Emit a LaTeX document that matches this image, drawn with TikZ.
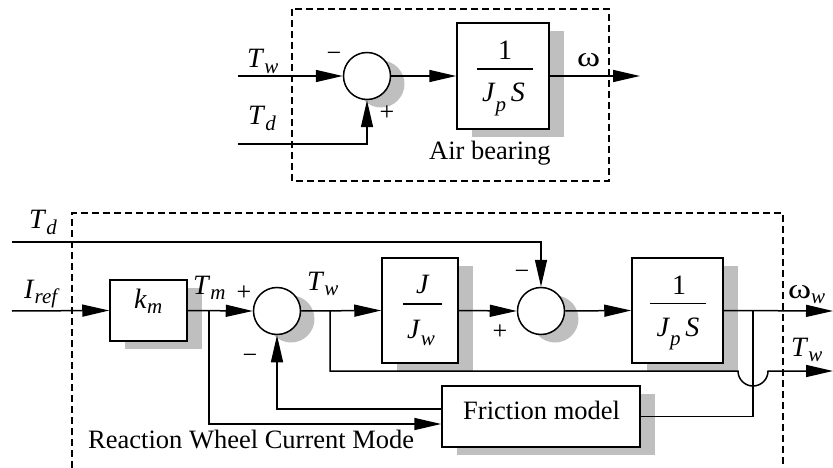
\documentclass[tikz,border=0pt]{standalone}
\usepackage{graphicx}
\usepackage{fontspec}
\setmainfont{Liberation Serif}
\usetikzlibrary{arrows.meta,shadows,calc}
\newcommand\vs[3][0.18em]{\textit{#2}\raisebox{-#1}{\scalebox{0.75}{\textit{#3}}}}
\newcommand\om{\scalebox{1.25}[1]{ω}}
\tikzset{
  x=1pt,y=-1pt,
  every node/.style={font=\fontsize{26}{30}\selectfont, inner sep=0pt},
  lab/.style={anchor=base west,font=\fontsize{28}{32}\selectfont},
  txt/.style={anchor=base west,font=\fontsize{26.5}{30}\selectfont},
  frac/.style={anchor=base,font=\fontsize{28}{32}\selectfont},
  ln/.style={line width=1.5pt},
  bar/.style={line width=1.3pt},
  arr/.style={ln,-{Triangle[length=27pt,width=12pt]}},
  blk/.style={draw,line width=1.5pt,fill=white,
    general shadow={fill=black!25,shadow xshift=15pt,shadow yshift=-8pt}},
  sumc/.style={draw,circle,line width=1.5pt,fill=white,minimum size=47pt,
    general shadow={fill=black!25,shadow xshift=14pt,shadow yshift=-8pt}},
  dbox/.style={line width=1.5pt,dash pattern=on 7pt off 4pt}
}
\begin{document}
\begin{tikzpicture}
\useasboundingbox (0,0) rectangle (833,468);
% dashed frames
\draw[dbox] (292,9) rectangle (609,181);
\begin{scope}
\clip (0,0) rectangle (833,468);
\draw[dbox] (783,475) -- (783,213) -- (72,213) -- (72,475);
\end{scope}

% ---------- top diagram ----------
\node[sumc] (s0) at (367,76) {};
\node[blk,minimum width=92pt,minimum height=106pt] (b0) at (503,76) {};
\node[frac] (b0n) at (505,60) {1};
\draw[bar] (477,69) -- (533,69);
\node[frac] (b0d) at (503.5,102) {\vs[0.35em]{J}{p}\,\textit{S}};
\coordinate (tw0) at (238,76);
\coordinate (td0) at (238,144);
\coordinate (om0) at (640,76);
\draw[arr] (tw0) -- (s0.west);
\draw[arr] (td0) -| (s0.south);
\draw[arr] (s0.east) -- (b0.west);
\draw[arr] (b0.east) -- (om0);
\node[lab] (ltw0) at (247,68) {\vs{T}{w}};
\node[lab] (ltd0) at (248,125) {\vs{T}{d}};
\node (lm0) at (334,57) {−};
\node (lp0) at (387,113) {+};
\node[lab] (lom0) at (577,67) {\om};
\node[txt] (lair) at (429,160) {Air bearing};

% ---------- bottom diagram ----------
\node[blk,minimum width=77pt,minimum height=61pt] (km) at (148.5,310.5) {};
\node[lab] (kmt) at (134,308) {\vs{k}{m}};
\node[sumc] (s1) at (277,311) {};
\node[blk,minimum width=76pt,minimum height=105pt] (jj) at (420,310.5) {};
\node[frac] (jjn) at (423,293) {\textit{J}};
\draw[bar] (403,304) -- (442,304);
\node[frac] (jjd) at (421,338) {\vs[0.25em]{J}{w}};
\node[sumc] (s2) at (541,311) {};
\node[blk,minimum width=91pt,minimum height=105pt] (jp) at (677.5,310.5) {};
\node[frac] (jpn) at (679,294.5) {1};
\draw[bar] (650,303.5) -- (706,303.5);
\node[frac] (jpd) at (678,336) {\vs[0.35em]{J}{p}\,\textit{S}};
\node[blk,minimum width=198pt,minimum height=61pt] (fr) at (541,416.5) {};
\node[txt] (frt) at (463,419) {Friction model};

\coordinate (tdin) at (12,242);
\coordinate (iref) at (12,311);
\coordinate (tm) at (209,311);
\coordinate (twj) at (330,311);
\coordinate (wj) at (753,311);
\coordinate (wout) at (833,311);
\coordinate (hopa) at (738,371);
\coordinate (twout) at (833,371);

\draw[arr] (tdin) -| (s2.north);
\draw[arr] (iref) -- (km.west);
\draw[arr] (km.east) -- (s1.west);
\draw[arr] (s1.east) -- (jj.west);
\draw[arr] (jj.east) -- (s2.west);
\draw[arr] (s2.east) -- (jp.west);
\draw[arr] (jp.east) -- (wout);
\draw[arr] (twj) |- (hopa) arc[start angle=180,end angle=360,radius=15pt] -- (twout);
\draw[ln] (wj) |- (fr.east);
\draw[arr] ($(fr.west)+(0,-7.5)$) -| (s1.south);
\draw[arr] (tm) |- ($(fr.west)+(0,7.5)$);

\node[lab] (ltd1) at (29,229) {\vs{T}{d}};
\node[lab] (liref) at (24,298) {\vs{I}{ref}};
\node[lab] (ltm) at (193,294) {\vs{T}{m}};
\node (lp1) at (244,293) {+};
\node[lab] (ltw1) at (307,290) {\vs{T}{w}};
\node (lm1) at (250,359) {−};
\node (lp2) at (500,332) {+};
\node (lm2) at (522,275) {−};
\node[lab] (lomw) at (788,298) {\om\raisebox{-0.18em}{\scalebox{0.75}{\textit{w}}}};
\node[lab] (ltw2) at (791,356) {\vs{T}{w}};
\node[txt] (lrw) at (88,448) {Reaction Wheel Current Mode};
\end{tikzpicture}
\end{document}
